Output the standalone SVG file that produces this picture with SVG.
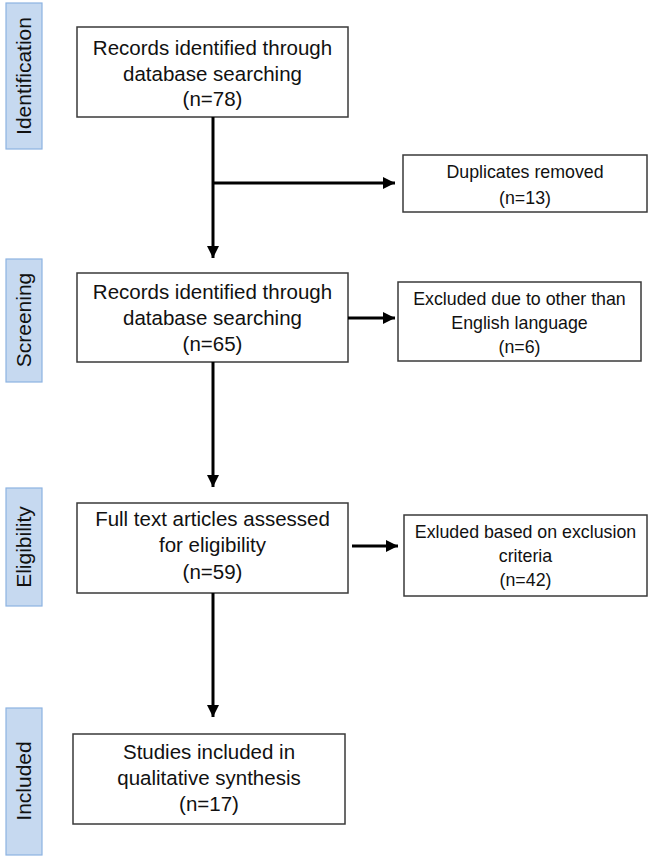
<svg xmlns="http://www.w3.org/2000/svg" width="650" height="863" viewBox="0 0 650 863">
<style>
.box{fill:#fff;stroke:#3a3a3a;stroke-width:1.5}
.side{fill:#c6d9f0;stroke:#8db3e2;stroke-width:1.2}
.t{font-family:"Liberation Sans",Arial,sans-serif;fill:#111;text-anchor:middle}
.m{font-size:20.5px}
.s{font-size:17.8px}
.lab{font-size:21px}
.c{fill:none;stroke:#000;stroke-width:3}
</style>
<defs>
<marker id="ah" viewBox="0 0 10 10" refX="10" refY="5" markerWidth="4" markerHeight="4" markerUnits="strokeWidth" orient="auto">
<path d="M0,0 L10,5 L0,10 z" fill="#000"/>
</marker>
</defs>
<g id="side-identification"><rect class="side" x="6" y="3" width="36" height="146"/><text class="t lab" transform="translate(31,76) rotate(-90)">Identification</text></g>
<g id="side-screening"><rect class="side" x="6" y="259" width="36" height="123"/><text class="t lab" transform="translate(31,320) rotate(-90)">Screening</text></g>
<g id="side-eligibility"><rect class="side" x="6" y="488" width="36" height="118"/><text class="t lab" transform="translate(31,547) rotate(-90)">Eligibility</text></g>
<g id="side-included"><rect class="side" x="6" y="708" width="36" height="147"/><text class="t lab" transform="translate(31,781) rotate(-90)">Included</text></g>

<g id="n1"><rect class="box" x="77" y="27" width="271" height="90"/>
<text class="t m" x="212.5" y="55">Records identified through</text>
<text class="t m" x="212.5" y="81">database searching</text>
<text class="t m" x="212.5" y="106">(n=78)</text></g>

<g id="n2"><rect class="box" x="403" y="155" width="244" height="57"/>
<text class="t s" x="525" y="178">Duplicates removed</text>
<text class="t s" x="525" y="204">(n=13)</text></g>

<g id="n3"><rect class="box" x="77" y="273" width="271" height="89"/>
<text class="t m" x="212.5" y="299">Records identified through</text>
<text class="t m" x="212.5" y="325">database searching</text>
<text class="t m" x="212.5" y="351">(n=65)</text></g>

<g id="n4"><rect class="box" x="398" y="282" width="243" height="79"/>
<text class="t s" x="519.5" y="305">Excluded due to other than</text>
<text class="t s" x="519.5" y="329">English language</text>
<text class="t s" x="519.5" y="353">(n=6)</text></g>

<g id="n5"><rect class="box" x="77" y="503" width="271" height="90"/>
<text class="t m" x="212.5" y="526">Full text articles assessed</text>
<text class="t m" x="212.5" y="552">for eligibility</text>
<text class="t m" x="212.5" y="579">(n=59)</text></g>

<g id="n6"><rect class="box" x="404" y="515" width="243" height="81"/>
<text class="t s" x="525.5" y="538">Exluded based on exclusion</text>
<text class="t s" x="525.5" y="562">criteria</text>
<text class="t s" x="525.5" y="586">(n=42)</text></g>

<g id="n7"><rect class="box" x="73" y="734" width="272" height="90"/>
<text class="t m" x="209" y="759">Studies included in</text>
<text class="t m" x="209" y="785">qualitative synthesis</text>
<text class="t m" x="209" y="811">(n=17)</text></g>

<g id="connectors">
<line class="c" x1="213" y1="117" x2="213" y2="258" marker-end="url(#ah)"/>
<line class="c" x1="213" y1="183" x2="395" y2="183" marker-end="url(#ah)"/>
<line class="c" x1="348" y1="318" x2="395" y2="318" marker-end="url(#ah)"/>
<line class="c" x1="213" y1="362" x2="213" y2="487" marker-end="url(#ah)"/>
<line class="c" x1="352" y1="546" x2="398" y2="546" marker-end="url(#ah)"/>
<line class="c" x1="213" y1="593" x2="213" y2="717" marker-end="url(#ah)"/>
</g>
</svg>
